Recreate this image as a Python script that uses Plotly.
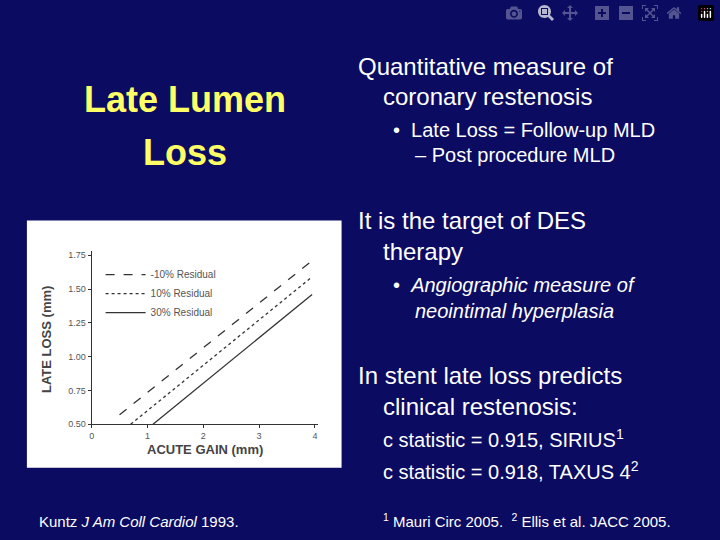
import plotly.graph_objects as go

W, H = 720, 540

gain_m10 = [0.5, 3.95]
loss_m10 = [0.57, 1.71]
gain_10 = [0.7, 3.95]
loss_10 = [0.50, 1.59]
gain_30 = [1.1, 3.95]
loss_30 = [0.50, 1.46]
series_names = ["-10% Residual", "10% Residual", "30% Residual"]
y_ticks = [0.50, 0.75, 1.00, 1.25, 1.50, 1.75]
x_ticks = [0, 1, 2, 3, 4]

def px_(x):
    return x / W

def py_(y):
    return 1 - y / H

fig = go.Figure()
for xs, ys, name, dash in [(gain_m10, loss_m10, series_names[0], "dash"),
                           (gain_10, loss_10, series_names[1], "dot"),
                           (gain_30, loss_30, series_names[2], "solid")]:
    fig.add_trace(go.Scatter(x=xs, y=ys, mode="lines", name=name,
                             line=dict(color="#333", width=1.3, dash=dash)))

ann_font = dict(family="Liberation Sans, Arial", color="white")
annotations = [
    dict(x=px_(183), y=py_(100), text="<b>Late Lumen</b>", font=dict(family="Liberation Sans, Arial", size=36, color="#ffff66")),
    dict(x=px_(183), y=py_(153), text="<b>Loss</b>", font=dict(family="Liberation Sans, Arial", size=36, color="#ffff66")),
    dict(x=px_(354), y=py_(66), text="Quantitative measure of", xanchor="left", font=dict(ann_font, size=24)),
    dict(x=px_(380), y=py_(97), text="coronary restenosis", xanchor="left", font=dict(ann_font, size=24)),
    dict(x=px_(390), y=py_(130), text="•  Late Loss = Follow-up MLD", xanchor="left", font=dict(ann_font, size=20)),
    dict(x=px_(412), y=py_(156), text="– Post procedure MLD", xanchor="left", font=dict(ann_font, size=20)),
    dict(x=px_(354), y=py_(222), text="It is the target of DES", xanchor="left", font=dict(ann_font, size=24)),
    dict(x=px_(380), y=py_(253), text="therapy", xanchor="left", font=dict(ann_font, size=24)),
    dict(x=px_(390), y=py_(287), text="•  <i>Angiographic measure of</i>", xanchor="left", font=dict(ann_font, size=20)),
    dict(x=px_(412), y=py_(313), text="<i>neointimal hyperplasia</i>", xanchor="left", font=dict(ann_font, size=20)),
    dict(x=px_(354), y=py_(379), text="In stent late loss predicts", xanchor="left", font=dict(ann_font, size=24)),
    dict(x=px_(380), y=py_(410), text="clinical restenosis:", xanchor="left", font=dict(ann_font, size=24)),
    dict(x=px_(380), y=py_(442), text="c statistic = 0.915, SIRIUS<sup>1</sup>", xanchor="left", font=dict(ann_font, size=20)),
    dict(x=px_(380), y=py_(475), text="c statistic = 0.918, TAXUS 4<sup>2</sup>", xanchor="left", font=dict(ann_font, size=20)),
    dict(x=px_(380), y=py_(525), text="<sup>1</sup> Mauri Circ 2005.  <sup>2</sup> Ellis et al. JACC 2005.", xanchor="left", font=dict(ann_font, size=15)),
    dict(x=px_(34), y=py_(526), text="Kuntz <i>J Am Coll Cardiol</i> 1993.", xanchor="left", font=dict(ann_font, size=15)),
    dict(x=px_(203), y=py_(454), text="<b>ACUTE GAIN (mm)</b>", font=dict(family="Liberation Sans, Arial", size=13, color="#444")),
    dict(x=px_(43), y=py_(342), text="<b>LATE LOSS (mm)</b>", textangle=-90, font=dict(family="Liberation Sans, Arial", size=13, color="#444")),
]
for a in annotations:
    a.update(xref="paper", yref="paper", showarrow=False, yanchor="middle")
    a.setdefault("xanchor", "center")

fig.update_layout(
    width=W, height=H, margin=dict(l=0, r=0, t=0, b=0),
    paper_bgcolor="#0b0b62", plot_bgcolor="white",
    annotations=annotations,
    shapes=[dict(type="rect", xref="paper", yref="paper", layer="below",
                 x0=px_(24), x1=px_(340), y0=py_(472), y1=py_(222),
                 fillcolor="white", line=dict(width=0))],
    legend=dict(x=px_(98), y=py_(262), xanchor="left", yanchor="top",
                bgcolor="rgba(0,0,0,0)", font=dict(family="Liberation Sans, Arial", size=10, color="#555"),
                itemwidth=40, tracegroupgap=0),
    showlegend=True,
)
fig.update_xaxes(domain=[px_(89), px_(316)], range=[0, 4.05], tickvals=x_ticks,
                 showgrid=False, zeroline=False, showline=True, linecolor="#333",
                 ticks="outside", ticklen=3, tickcolor="#333",
                 tickfont=dict(family="Liberation Sans, Arial", size=9, color="#555"))
fig.update_yaxes(domain=[py_(428), py_(253)], range=[0.5, 1.78], tickvals=y_ticks,
                 tickformat=".2f", showgrid=False, zeroline=False, showline=True, linecolor="#333",
                 ticks="outside", ticklen=3, tickcolor="#333",
                 tickfont=dict(family="Liberation Sans, Arial", size=9, color="#555"))

fig.write_html("out.html", post_script="document.body.style.margin='0';document.body.style.overflow='hidden';")
